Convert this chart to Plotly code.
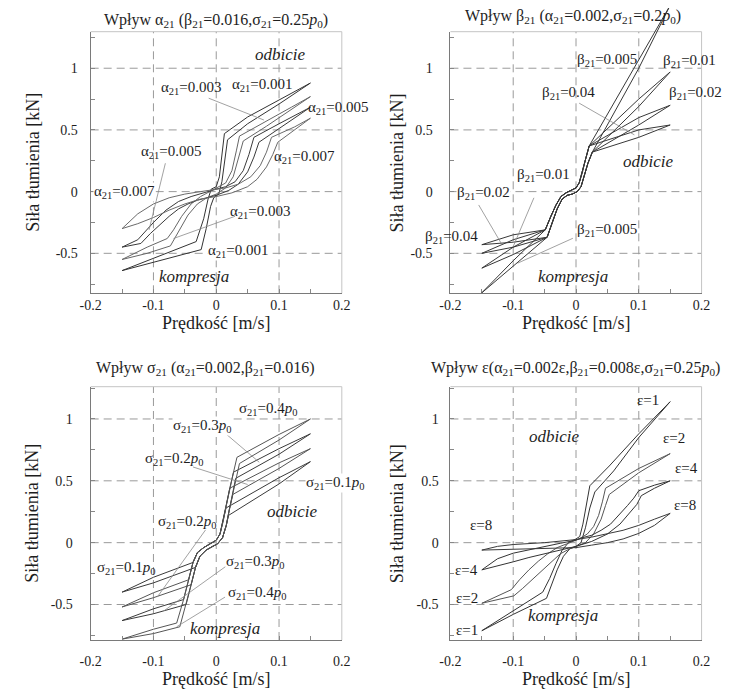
import plotly.graph_objects as go

# ---------------- shared tick / grid values ----------------
X_TICKS = [-0.2, -0.1, 0, 0.1, 0.2]
X_TICK_TEXT = ["-0.2", "-0.1", "0", "0.1", "0.2"]
X_MINOR = [-0.15, -0.05, 0.05, 0.15]
Y_TICKS = [-0.5, 0, 0.5, 1]
Y_TICK_TEXT = ["-0.5", "0", "0.5", "1"]
Y_MINOR = [-0.75, -0.25, 0.25, 0.75, 1.25]
GRID_X = [-0.1, 0, 0.1]
GRID_Y = [-0.5, 0, 0.5, 1]

# ---------------- Panel 1: influence of alpha_21 ----------------
A001_V = [-0.15, -0.10, -0.05, -0.024, -0.016, -0.009, -0.004, 0.004, 0.009, 0.014, 0.018, 0.05, 0.10, 0.15,
          0.10, 0.05, 0.013, 0.009, 0.005, 0.0, -0.008, -0.013, -0.02, -0.032, -0.08, -0.15]
A001_F = [-0.64, -0.575, -0.505, -0.47, -0.30, -0.12, -0.05, -0.02, 0.08, 0.25, 0.42, 0.55, 0.71, 0.88,
          0.745, 0.605, 0.47, 0.30, 0.12, 0.04, 0.02, -0.06, -0.22, -0.405, -0.50, -0.64]
A003_V = [-0.15, -0.11, -0.073, -0.06, -0.045, -0.03, -0.015, 0.0, 0.015, 0.027, 0.035, 0.043, 0.08, 0.12, 0.15,
          0.12, 0.08, 0.037, 0.032, 0.025, 0.015, 0.0, -0.012, -0.025, -0.04, -0.055, -0.068, -0.078, -0.11, -0.15]
A003_F = [-0.55, -0.50, -0.44, -0.32, -0.19, -0.10, -0.05, -0.02, 0.03, 0.12, 0.27, 0.41, 0.53, 0.67, 0.77,
          0.685, 0.575, 0.45, 0.33, 0.17, 0.07, 0.03, 0.0, -0.04, -0.10, -0.20, -0.31, -0.38, -0.45, -0.55]
A005_V = [-0.15, -0.12, -0.105, -0.09, -0.075, -0.06, -0.045, -0.03, -0.015, 0.0, 0.02, 0.035, 0.05, 0.06, 0.068, 0.1, 0.15,
          0.1, 0.06, 0.052, 0.043, 0.03, 0.015, 0.0, -0.02, -0.04, -0.06, -0.08, -0.1, -0.115, -0.125, -0.15]
A005_F = [-0.45, -0.42, -0.34, -0.27, -0.20, -0.14, -0.10, -0.07, -0.05, -0.03, 0.01, 0.06, 0.16, 0.28, 0.40, 0.51, 0.684,
          0.55, 0.44, 0.30, 0.17, 0.08, 0.04, 0.02, -0.01, -0.04, -0.08, -0.15, -0.25, -0.33, -0.39, -0.45]
A007_V = [-0.15, -0.125, -0.1, -0.075, -0.05, -0.025, 0.0, 0.025, 0.05, 0.065, 0.08, 0.09, 0.098, 0.125, 0.15,
          0.125, 0.088, 0.08, 0.07, 0.055, 0.035, 0.015, 0.0, -0.025, -0.05, -0.075, -0.1, -0.125, -0.15]
A007_F = [-0.30, -0.26, -0.21, -0.15, -0.10, -0.06, -0.04, -0.01, 0.04, 0.10, 0.20, 0.30, 0.40, 0.50, 0.595,
          0.525, 0.44, 0.32, 0.21, 0.12, 0.06, 0.03, 0.02, 0.0, -0.02, -0.05, -0.10, -0.18, -0.30]

# ---------------- Panel 2: influence of beta_21 ----------------
B_CORE_LO_V = [-0.046, -0.038, -0.03, -0.022, -0.014, -0.006, 0.002, 0.008, 0.013, 0.019, 0.026]
B_CORE_LO_F = [-0.37, -0.25, -0.14, -0.06, -0.03, -0.02, 0.0, 0.04, 0.12, 0.23, 0.32]
B_CORE_UP_V = [0.021, 0.015, 0.01, 0.005, 0.0, -0.008, -0.016, -0.024, -0.032, -0.04, -0.049]
B_CORE_UP_F = [0.37, 0.26, 0.15, 0.07, 0.03, 0.01, -0.01, -0.04, -0.11, -0.2, -0.31]
B_NAMES = ["0.005", "0.01", "0.02", "0.04"]
B_TIP_LEFT = [-0.82, -0.62, -0.50, -0.43]
B_COMP_LO_MID = [-0.60, -0.51, -0.45, -0.41]
B_COMP_UP_MID = [-0.56, -0.45, -0.39, -0.35]
B_REB_LO_MID = [1.00, 0.69, 0.54, 0.44]
B_REB_UP_MID = [1.07, 0.75, 0.60, 0.50]
B_TIP_RIGHT = [1.51, 0.97, 0.70, 0.54]
B_V_TIP, B_V_MID = 0.15, 0.10

# ---------------- Panel 3: influence of sigma_21 ----------------
S01_V = [-0.15, -0.1, -0.033, -0.026, -0.016, -0.006, 0.002, 0.01, 0.016, 0.0195, 0.1, 0.15,
         0.1, 0.0155, 0.011, 0.006, 0.0, -0.01, -0.02, -0.03, -0.037, -0.1, -0.15]
S01_F = [-0.40, -0.325, -0.20, -0.11, -0.06, -0.03, -0.01, 0.04, 0.14, 0.22, 0.475, 0.655,
         0.525, 0.28, 0.17, 0.07, 0.02, -0.01, -0.04, -0.08, -0.16, -0.28, -0.40]
S02_V = [-0.15, -0.1, -0.04, -0.033, -0.026, -0.016, -0.006, 0.002, 0.01, 0.016, 0.021, 0.0265, 0.1, 0.15,
         0.1, 0.0215, 0.016, 0.011, 0.006, 0.0, -0.01, -0.02, -0.03, -0.037, -0.044, -0.1, -0.15]
S02_F = [-0.52, -0.445, -0.34, -0.20, -0.11, -0.06, -0.03, -0.01, 0.04, 0.14, 0.27, 0.39, 0.60, 0.76,
         0.645, 0.44, 0.30, 0.17, 0.07, 0.02, -0.01, -0.04, -0.08, -0.16, -0.30, -0.405, -0.52]
S03_V = [-0.15, -0.1, -0.048, -0.04, -0.033, -0.026, -0.016, -0.006, 0.002, 0.01, 0.016, 0.021, 0.027, 0.031, 0.1, 0.15,
         0.1, 0.0275, 0.022, 0.016, 0.011, 0.006, 0.0, -0.01, -0.02, -0.03, -0.037, -0.044, -0.052, -0.1, -0.15]
S03_F = [-0.63, -0.575, -0.50, -0.34, -0.20, -0.11, -0.06, -0.03, -0.01, 0.04, 0.14, 0.27, 0.42, 0.52, 0.715, 0.88,
         0.76, 0.57, 0.45, 0.30, 0.17, 0.07, 0.02, -0.01, -0.04, -0.08, -0.16, -0.30, -0.46, -0.535, -0.63]
S04_V = [-0.15, -0.1, -0.058, -0.048, -0.04, -0.033, -0.026, -0.016, -0.006, 0.002, 0.01, 0.016, 0.021, 0.027, 0.033, 0.037, 0.1, 0.15,
         0.1, 0.033, 0.028, 0.022, 0.016, 0.011, 0.006, 0.0, -0.01, -0.02, -0.03, -0.037, -0.044, -0.052, -0.063, -0.1, -0.15]
S04_F = [-0.78, -0.735, -0.68, -0.50, -0.34, -0.20, -0.11, -0.06, -0.03, -0.01, 0.04, 0.14, 0.27, 0.42, 0.56, 0.64, 0.83, 1.0,
         0.875, 0.69, 0.58, 0.45, 0.30, 0.17, 0.07, 0.02, -0.01, -0.04, -0.08, -0.16, -0.30, -0.46, -0.65, -0.70, -0.78]

# ---------------- Panel 4: influence of epsilon ----------------
E1_V = [-0.15, -0.1, -0.047, -0.04, -0.03, -0.02, -0.01, 0.0, 0.008, 0.015, 0.022, 0.03, 0.06, 0.1, 0.15,
        0.1, 0.053, 0.022, 0.017, 0.011, 0.006, 0.0, -0.012, -0.022, -0.032, -0.042, -0.053, -0.1, -0.15]
E1_F = [-0.712, -0.58, -0.45, -0.36, -0.22, -0.11, -0.05, -0.03, 0.0, 0.12, 0.28, 0.41, 0.58, 0.85, 1.14,
        0.88, 0.62, 0.46, 0.32, 0.15, 0.05, 0.03, 0.0, -0.06, -0.17, -0.29, -0.40, -0.55, -0.712]
E2_V = [-0.15, -0.099, -0.085, -0.07, -0.055, -0.04, -0.025, -0.01, 0.0, 0.015, 0.028, 0.04, 0.047, 0.053, 0.1, 0.15,
        0.1, 0.047, 0.042, 0.036, 0.028, 0.018, 0.008, 0.0, -0.015, -0.03, -0.045, -0.06, -0.075, -0.09, -0.103, -0.15]
E2_F = [-0.49, -0.43, -0.37, -0.30, -0.23, -0.16, -0.09, -0.05, -0.03, 0.0, 0.07, 0.19, 0.30, 0.39, 0.565, 0.72,
        0.60, 0.44, 0.33, 0.22, 0.13, 0.07, 0.04, 0.02, -0.01, -0.04, -0.09, -0.15, -0.22, -0.30, -0.38, -0.49]
E4_V = [-0.15, -0.125, -0.1, -0.075, -0.05, -0.025, 0.0, 0.025, 0.05, 0.07, 0.086, 0.097, 0.104, 0.125, 0.15,
        0.125, 0.1, 0.092, 0.082, 0.07, 0.055, 0.04, 0.025, 0.01, 0.0, -0.025, -0.05, -0.075, -0.1, -0.125, -0.15]
E4_F = [-0.22, -0.19, -0.155, -0.12, -0.09, -0.06, -0.03, 0.01, 0.07, 0.15, 0.24, 0.31, 0.38, 0.44, 0.50,
        0.465, 0.42, 0.36, 0.30, 0.23, 0.15, 0.10, 0.06, 0.04, 0.02, -0.005, -0.03, -0.055, -0.085, -0.13, -0.22]
E8_V = [-0.15, -0.1, -0.05, -0.02, 0.0, 0.025, 0.05, 0.075, 0.1, 0.125, 0.15,
        0.125, 0.1, 0.075, 0.05, 0.025, 0.0, -0.025, -0.05, -0.1, -0.125, -0.15]
E8_F = [-0.06, -0.055, -0.05, -0.045, -0.04, -0.02, 0.0, 0.03, 0.075, 0.14, 0.237,
        0.19, 0.14, 0.10, 0.07, 0.045, 0.025, 0.01, 0.0, -0.015, -0.03, -0.06]

# ---------------- layout geometry (screen pixels; page body has an 8px margin) ----------------
OFF = 8
W, H = 731 - OFF, 689 - OFF


def px_x(X):
    return (X - OFF) / W


def px_y(Y):
    return 1 - (Y - OFF) / H


XD_LEFT = [px_x(81.7), px_x(340)]
XD_RIGHT = [px_x(451.7), px_x(710)]
YD_TOP = [px_y(293.3), px_y(31.7)]
YD_BOT = [px_y(640), px_y(386.7)]
YR_TOP = [-0.824, 1.296]
YR_BOT = [-0.787, 1.261]

SERIF = "Liberation Serif"
LINE_COL = "#383838"
TXT_COL = "#1e1e1e"

fig = go.Figure()


def add_loop(v, f, xa, ya, color=LINE_COL):
    fig.add_trace(go.Scatter(x=v, y=f, mode="lines", xaxis=xa, yaxis=ya,
                             line=dict(color=color, width=1), showlegend=False,
                             hoverinfo="skip"))


# panel 1
for v, f, c in [(A001_V, A001_F, "#333"), (A003_V, A003_F, "#666"),
                (A005_V, A005_F, "#3a3a3a"), (A007_V, A007_F, "#6a6a6a")]:
    add_loop(v, f, "x", "y", c)

# panel 2 (the beta=0.005 loop is drawn on an extended overlay axis so it
# can run past the top of the frame, as in the original)
for i, name in enumerate(B_NAMES):
    v = [-B_V_TIP, -B_V_MID] + B_CORE_LO_V + [B_V_MID, B_V_TIP, B_V_MID] + B_CORE_UP_V + [-B_V_MID, -B_V_TIP]
    f = ([B_TIP_LEFT[i], B_COMP_LO_MID[i]] + B_CORE_LO_F +
         [B_REB_LO_MID[i], B_TIP_RIGHT[i], B_REB_UP_MID[i]] + B_CORE_UP_F +
         [B_COMP_UP_MID[i], B_TIP_LEFT[i]])
    if i == 0:
        add_loop(v, f, "x5", "y5")
    else:
        add_loop(v, f, "x2", "y2")

# panel 3
for v, f, c in [(S01_V, S01_F, "#3a3a3a"), (S02_V, S02_F, "#555"),
                (S03_V, S03_F, "#3a3a3a"), (S04_V, S04_F, "#555")]:
    add_loop(v, f, "x3", "y3", c)

# panel 4
for v, f, c in [(E1_V, E1_F, "#333"), (E2_V, E2_F, "#555"),
                (E4_V, E4_F, "#333"), (E8_V, E8_F, "#3a3a3a")]:
    add_loop(v, f, "x4", "y4", c)


def xaxis(domain, anchor, standoff):
    return dict(domain=domain, anchor=anchor, range=[-0.2, 0.2], tickmode="array",
                tickvals=X_TICKS, ticktext=X_TICK_TEXT, ticks="inside", ticklen=4,
                tickcolor="#888", showline=True, linecolor="#7a7a7a", linewidth=1,
                showgrid=False, zeroline=False, ticklabelstandoff=standoff,
                tickfont=dict(family=SERIF, size=14, color=TXT_COL),
                minor=dict(tickmode="array", tickvals=X_MINOR, ticks="inside",
                           ticklen=4, tickcolor="#888", showgrid=False),
                fixedrange=True)


def yaxis(domain, anchor, rng, standoff):
    return dict(domain=domain, anchor=anchor, range=rng, tickmode="array",
                tickvals=Y_TICKS, ticktext=Y_TICK_TEXT, ticks="inside", ticklen=4,
                tickcolor="#888", showline=True, linecolor="#7a7a7a", linewidth=1,
                showgrid=False, zeroline=False, ticklabelstandoff=standoff,
                tickfont=dict(family=SERIF, size=14, color=TXT_COL),
                minor=dict(tickmode="array", tickvals=Y_MINOR, ticks="inside",
                           ticklen=4, tickcolor="#888", showgrid=False),
                fixedrange=True)


ext = (1 - YD_TOP[1]) / (YD_TOP[1] - YD_TOP[0]) * (YR_TOP[1] - YR_TOP[0])

fig.update_layout(
    width=W, height=H, autosize=False,
    margin=dict(l=0, r=0, t=0, b=0),
    paper_bgcolor="white", plot_bgcolor="rgba(0,0,0,0)",
    xaxis=xaxis(XD_LEFT, "y", -1), yaxis=yaxis(YD_TOP, "x", YR_TOP, 9),
    xaxis2=xaxis(XD_RIGHT, "y2", -1), yaxis2=yaxis(YD_TOP, "x2", YR_TOP, 14),
    xaxis3=xaxis(XD_LEFT, "y3", 8), yaxis3=yaxis(YD_BOT, "x3", YR_BOT, 14),
    xaxis4=xaxis(XD_RIGHT, "y4", 8), yaxis4=yaxis(YD_BOT, "x4", YR_BOT, 8),
    xaxis5=dict(domain=XD_RIGHT, anchor="y5", range=[-0.2, 0.2], visible=False, fixedrange=True),
    yaxis5=dict(domain=[YD_TOP[0], 1.0], anchor="x5", range=[YR_TOP[0], YR_TOP[1] + ext],
                visible=False, fixedrange=True),
)

PANELS = [("x", "y"), ("x2", "y2"), ("x3", "y3"), ("x4", "y4")]
shapes = []
for xa, ya in PANELS:
    for g in GRID_X:
        shapes.append(dict(type="line", xref=xa, yref=ya + " domain", x0=g, x1=g, y0=0, y1=1,
                           line=dict(color="#9a9a9a", width=1, dash="8px,5px"), layer="below"))
    for g in GRID_Y:
        shapes.append(dict(type="line", xref=xa + " domain", yref=ya, x0=0, x1=1, y0=g, y1=g,
                           line=dict(color="#9a9a9a", width=1, dash="8px,5px"), layer="below"))
    shapes.append(dict(type="line", xref=xa + " domain", yref=ya + " domain", x0=0, x1=1, y0=1, y1=1,
                       line=dict(color="#c4c4c4", width=1), layer="below"))
    shapes.append(dict(type="line", xref=xa + " domain", yref=ya + " domain", x0=1, x1=1, y0=0, y1=1,
                       line=dict(color="#c4c4c4", width=1), layer="below"))

# leader lines from labels to curves: (panel index, x0, y0, x1, y1)
LEADERS = [
    (0, -0.012, 0.757, 0.076, 0.58),
    (0, -0.081, 0.23, -0.107, -0.31),
    (0, 0.03, -0.2, -0.068, -0.38),
    (1, 0.005, 0.717, 0.093, 0.46),
    (1, -0.067, -0.05, -0.1, -0.445),
    (1, -0.155, -0.108, -0.119, -0.42),
    (1, -0.005, -0.378, -0.093, -0.58),
    (2, 0.0144, 0.884, 0.0685, 0.65),
    (2, -0.037, 0.612, 0.05, 0.47),
    (2, -0.017, 0.103, -0.094, -0.44),
    (2, 0.0144, -0.195, -0.083, -0.55),
    (2, 0.014, -0.44, -0.063, -0.68),
]
for p, x0, y0, x1, y1 in LEADERS:
    xa, ya = PANELS[p]
    shapes.append(dict(type="line", xref=xa, yref=ya, x0=x0, y0=y0, x1=x1, y1=y1,
                       line=dict(color="#8a8a8a", width=0.8)))
fig.update_layout(shapes=shapes)

S21 = "<sub>21</sub>"
P0 = "<i>p</i><sub>0</sub>"
LABELS = [
    # panel 1
    (0, "α" + S21 + "=0.003", -0.04, 0.84, False),
    (0, "α" + S21 + "=0.001", 0.074, 0.865, False),
    (0, "α" + S21 + "=0.005", 0.195, 0.676, False),
    (0, "α" + S21 + "=0.007", 0.141, 0.284, False),
    (0, "α" + S21 + "=0.005", -0.071, 0.325, False),
    (0, "α" + S21 + "=0.007", -0.146, 0.0, True),
    (0, "α" + S21 + "=0.003", 0.071, -0.167, False),
    (0, "α" + S21 + "=0.001", 0.035, -0.478, True),
    # panel 2
    (1, "β" + S21 + "=0.005", 0.049, 1.068, False),
    (1, "β" + S21 + "=0.01", 0.18, 1.06, False),
    (1, "β" + S21 + "=0.04", -0.012, 0.80, False),
    (1, "β" + S21 + "=0.02", 0.191, 0.80, False),
    (1, "β" + S21 + "=0.01", -0.052, 0.135, False),
    (1, "β" + S21 + "=0.02", -0.147, -0.013, True),
    (1, "β" + S21 + "=0.04", -0.199, -0.365, False),
    (1, "β" + S21 + "=0.005", 0.049, -0.31, False),
    # panel 3
    (2, "σ" + S21 + "=0.4" + P0, 0.0826, 1.08, False),
    (2, "σ" + S21 + "=0.3" + P0, -0.022, 0.94, True),
    (2, "σ" + S21 + "=0.2" + P0, -0.066, 0.68, False),
    (2, "σ" + S21 + "=0.1" + P0, 0.19, 0.48, True),
    (2, "σ" + S21 + "=0.2" + P0, -0.045, 0.17, False),
    (2, "σ" + S21 + "=0.1" + P0, -0.143, -0.207, False),
    (2, "σ" + S21 + "=0.3" + P0, 0.063, -0.154, False),
    (2, "σ" + S21 + "=0.4" + P0, 0.066, -0.41, False),
    # panel 4
    (3, "ε=1", 0.1146, 1.154, False),
    (3, "ε=2", 0.156, 0.844, False),
    (3, "ε=4", 0.176, 0.60, False),
    (3, "ε=8", 0.174, 0.305, False),
    (3, "ε=8", -0.151, 0.143, False),
    (3, "ε=4", -0.174, -0.22, False),
    (3, "ε=2", -0.174, -0.45, False),
    (3, "ε=1", -0.174, -0.706, False),
]
REGION = [
    (0, "odbicie", 0.102, 1.11), (0, "kompresja", -0.035, -0.69),
    (1, "odbicie", 0.114, 0.243), (1, "kompresja", -0.005, -0.69),
    (2, "odbicie", 0.12, 0.25), (2, "kompresja", 0.014, -0.69),
    (3, "odbicie", -0.035, 0.857), (3, "kompresja", -0.02, -0.585),
]
# panel titles: (text, screen x, screen y, font size)
TITLES = [
    ("Wpływ α" + S21 + " (β" + S21 + "=0.016,σ" + S21 + "=0.25" + P0 + ")", 210.8, 20, 16),
    ("Wpływ β" + S21 + " (α" + S21 + "=0.002,σ" + S21 + "=0.2" + P0 + ")", 577.5, 16.7, 16),
    ("Wpływ σ" + S21 + " (α" + S21 + "=0.002,β" + S21 + "=0.016)", 200, 368.3, 16),
    ("Wpływ ε(α" + S21 + "=0.002ε,β" + S21 + "=0.008ε,σ" + S21 + "=0.25" + P0 + ")", 580, 368.3, 16),
]
Y_TITLE_X = [21.7, 396.7, 21.7, 396.7]
X_TITLE_Y = [322.7, 322.7, 678.5, 678.5]

ann = []
for p, t, x, y, bg in LABELS:
    xa, ya = PANELS[p]
    ann.append(dict(text=t, x=x, y=y, xref=xa, yref=ya, showarrow=False,
                    xanchor="center", yanchor="middle",
                    bgcolor="white" if bg else None, borderpad=0,
                    font=dict(family=SERIF, size=15, color=TXT_COL)))
for p, t, x, y in REGION:
    xa, ya = PANELS[p]
    ann.append(dict(text="<i>" + t + "</i>", x=x, y=y, xref=xa, yref=ya, showarrow=False,
                    xanchor="center", yanchor="middle",
                    font=dict(family=SERIF, size=17, color=TXT_COL)))
for t, x, y, s in TITLES:
    ann.append(dict(text=t, x=px_x(x), y=px_y(y), xref="paper", yref="paper", showarrow=False,
                    xanchor="center", yanchor="middle",
                    font=dict(family=SERIF, size=s, color=TXT_COL)))
for p, (xa, ya) in enumerate(PANELS):
    ann.append(dict(text="Siła tłumienia [kN]", x=px_x(Y_TITLE_X[p]), y=0.5, xref="paper",
                    yref=ya + " domain", textangle=-90, showarrow=False,
                    xanchor="center", yanchor="middle",
                    font=dict(family=SERIF, size=18, color=TXT_COL)))
    ann.append(dict(text="Prędkość [m/s]", x=0.5, y=px_y(X_TITLE_Y[p]), xref=xa + " domain",
                    yref="paper", showarrow=False, xanchor="center", yanchor="middle",
                    font=dict(family=SERIF, size=18, color=TXT_COL)))
fig.update_layout(annotations=ann)

fig.write_html("out.html")
